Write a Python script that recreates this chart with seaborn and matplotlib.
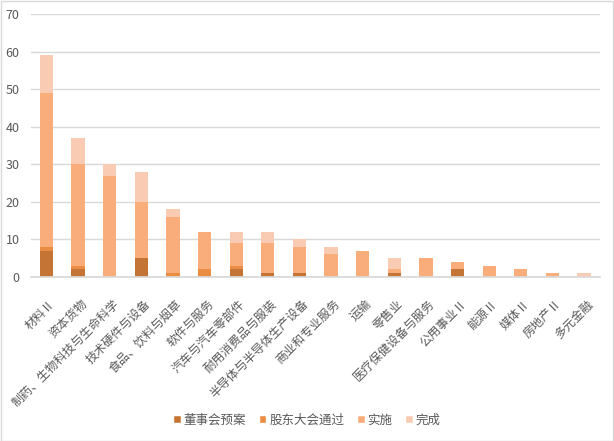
import numpy as np
import pandas as pd
import matplotlib
matplotlib.use("Agg")
import matplotlib.pyplot as plt
import matplotlib.transforms as mtrans
import seaborn as sns
from matplotlib.patches import Patch

# dati
categorie = ["材料Ⅱ", "资本货物", "制药、生物科技与生命科学", "技术硬件与设备",
             "食品、饮料与烟草", "软件与服务", "汽车与汽车零部件", "耐用消费品与服装",
             "半导体与半导体生产设备", "商业和专业服务", "运输", "零售业",
             "医疗保健设备与服务", "公用事业Ⅱ", "能源Ⅱ", "媒体Ⅱ", "房地产Ⅱ", "多元金融"]
dongshihui = [7, 2, 0, 5, 0, 0, 2, 1, 1, 0, 0, 1, 0, 2, 0, 0, 0, 0]
gudong = [1, 1, 0, 0, 1, 2, 1, 0, 0, 0, 0, 0, 0, 0, 0, 0, 0, 0]
shishi = [41, 27, 27, 15, 15, 10, 6, 8, 7, 6, 7, 1, 5, 2, 3, 2, 1, 0]
wancheng = [10, 7, 3, 8, 2, 0, 3, 3, 2, 2, 0, 3, 0, 0, 0, 0, 0, 1]

serie = ["董事会预案", "股东大会通过", "实施", "完成"]
valori = [dongshihui, gudong, shishi, wancheng]
colori = ["#C47535", "#EA8C42", "#F8AD7B", "#F9CBB3"]

sns.set_theme(style="white")
plt.rcParams["font.family"] = ["Noto Sans CJK SC", "DejaVu Sans"]

fig = plt.figure(figsize=(6.14, 4.41), dpi=100)
ax = fig.add_axes([0.05, 0.372, 0.927, 0.596])

base = np.zeros(len(categorie))
for nome, v, c in zip(serie, valori, colori):
    df = pd.DataFrame({"cat": categorie, "val": v})
    sns.barplot(data=df, x="cat", y="val", color=c, width=0.42,
                bottom=base, ax=ax, saturation=1, linewidth=0)
    base = base + np.array(v)

ax.set_ylim(0, 70)
ax.set_xlim(-0.5, len(categorie) - 0.5)
ax.set_yticks(range(0, 71, 10))
ax.yaxis.grid(True, color="#D9D9D9", linewidth=1)
ax.set_axisbelow(True)
for s in ["top", "right", "left"]:
    ax.spines[s].set_visible(False)
ax.spines["bottom"].set_color("#D9D9D9")
ax.set_xlabel("")
ax.set_ylabel("")
ax.tick_params(axis="both", length=0, colors="#595959", labelsize=9)
ax.tick_params(axis="y", pad=8)
ax.tick_params(axis="x", pad=18)
ax.set_xticks(range(len(categorie)))
ax.set_xticklabels(categorie, rotation=45, ha="right", va="center",
                   rotation_mode="anchor", fontsize=8.7, color="#595959")
# sposto un po' le etichette a destra
sposta = mtrans.ScaledTranslation(7 / 100, 0, fig.dpi_scale_trans)
for t in ax.get_xticklabels():
    t.set_transform(t.get_transform() + sposta)

maniglie = [Patch(facecolor=c, label=n) for n, c in zip(serie, colori)]
fig.legend(handles=maniglie, loc="center", bbox_to_anchor=(0.5, 0.048), ncol=4,
           frameon=False, fontsize=9, handlelength=0.6, handleheight=0.6,
           handletextpad=0.25, columnspacing=1.0, labelcolor="#595959")

# bordo esterno
fig.patches.append(plt.Rectangle((0.001, 0.001), 0.997, 0.997, transform=fig.transFigure,
                                 fill=False, edgecolor="#D9D9D9", linewidth=1))

fig.savefig("out.png", dpi=100)
